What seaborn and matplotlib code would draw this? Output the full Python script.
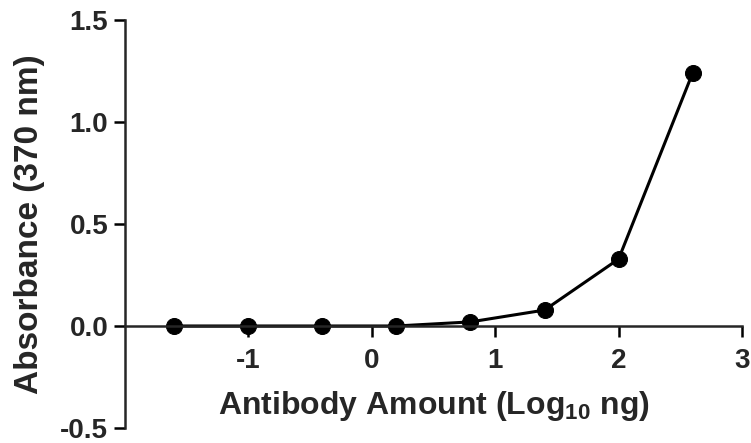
import pandas as pd
import matplotlib
matplotlib.use("Agg")
import matplotlib.pyplot as plt
import seaborn as sns

sns.set_style('ticks')
plt.rcParams['font.family'] = ['Liberation Sans', 'DejaVu Sans']
plt.rcParams['font.weight'] = 'bold'
plt.rcParams['axes.unicode_minus'] = False
plt.rcParams['mathtext.fontset'] = 'custom'
plt.rcParams['mathtext.rm'] = 'Liberation Sans:bold'
plt.rcParams['mathtext.it'] = 'Liberation Sans:bold'
plt.rcParams['mathtext.bf'] = 'Liberation Sans:bold'
plt.rcParams['mathtext.default'] = 'rm'

# log10 ng antibody vs absorbance
log_amount = [-1.6, -1.0, -0.4, 0.2, 0.8, 1.4, 2.0, 2.6]
absorbance = [0.0, 0.0, 0.0, 0.0, 0.02, 0.078, 0.328, 1.24]
x_ticks = [-1, 0, 1, 2, 3]
y_ticks = [-0.5, 0.0, 0.5, 1.0, 1.5]

df = pd.DataFrame({'x': log_amount, 'y': absorbance})

fig = plt.figure(figsize=(7.51, 4.43), dpi=100)
ax = fig.add_axes([0.1664, 0.0339, 0.8216, 0.921])

sns.lineplot(data=df, x='x', y='y', ax=ax, color='black', marker='o',
             markersize=11.5, linewidth=2.2, markeredgecolor='black')

ax.set_xlim(-2, 3)
ax.set_ylim(-0.5, 1.5)
ax.set_xticks(x_ticks)
ax.set_yticks(y_ticks)
ax.set_yticklabels(['%.1f' % v for v in y_ticks])

ax.spines['bottom'].set_position(('data', 0))
ax.spines['top'].set_visible(False)
ax.spines['right'].set_visible(False)
for s in ['left', 'bottom']:
    ax.spines[s].set_linewidth(1.8)
ax.tick_params(axis='both', direction='out', length=8, width=1.8,
               labelsize=20, pad=4, color='black')
ax.tick_params(axis='x', pad=8)

ax.set_xlabel(r'Antibody Amount (Log$_{10}$ ng)', fontsize=23, fontweight='bold')
ax.set_ylabel('Absorbance (370 nm)', fontsize=24, fontweight='bold')
ax.xaxis.set_label_coords(0.5, 0.095)
ax.yaxis.set_label_coords(-0.13, 0.5)

fig.savefig('out.png', dpi=100)
